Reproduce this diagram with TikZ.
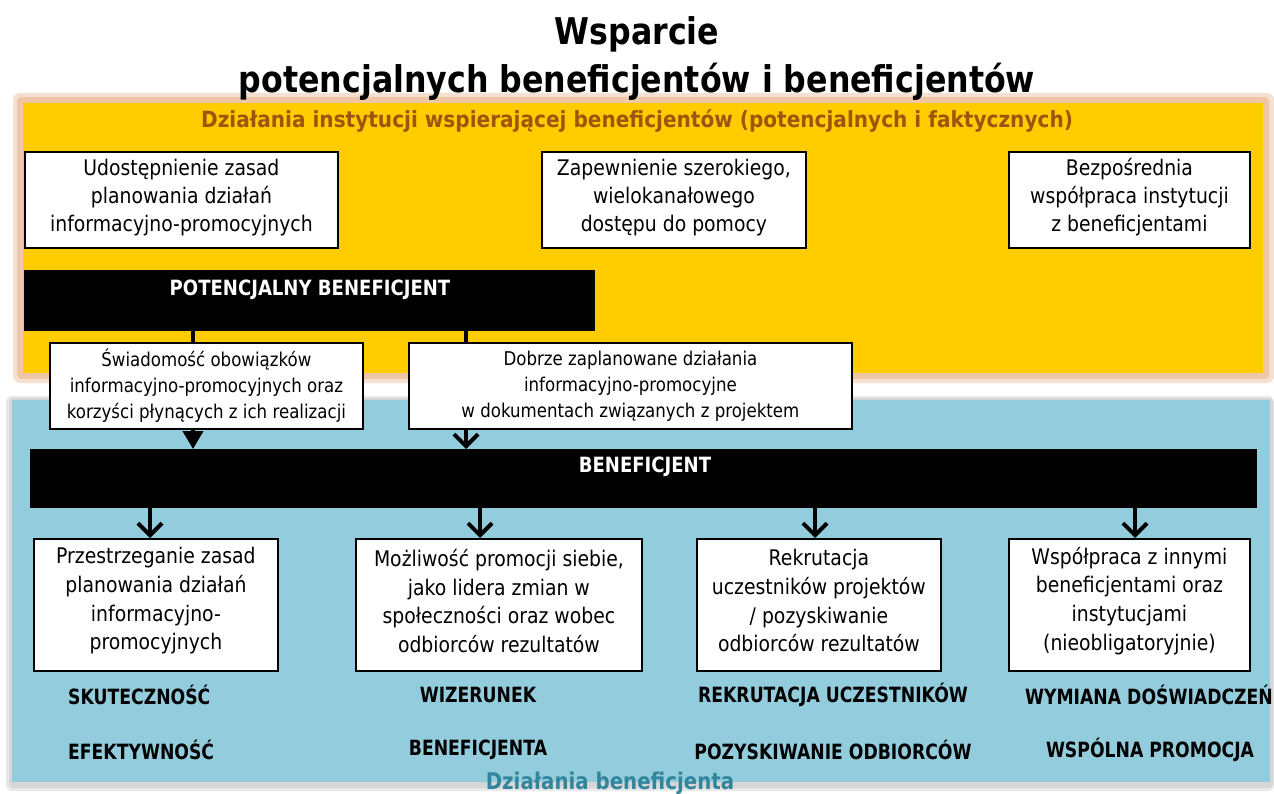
\documentclass[tikz,border=0pt]{standalone}
\usepackage{fontspec}
\usetikzlibrary{arrows.meta}
\newfontfamily\tah[FakeStretch=0.875]{DejaVu Sans}
\newfontfamily\tahb[FakeStretch=0.86]{DejaVu Sans Bold}
\newfontfamily\tahw[FakeStretch=0.9]{DejaVu Sans Bold}
\newfontfamily\tahc[FakeStretch=0.82]{DejaVu Sans Bold}
\definecolor{ybg}{HTML}{FFCC00}
\definecolor{yglow}{HTML}{E8B48A}
\definecolor{bbg}{HTML}{93CDDD}
\definecolor{brownlbl}{HTML}{A0540A}
\definecolor{teallbl}{HTML}{31859C}
\begin{document}
\begin{tikzpicture}[x=1pt,y=-1pt,
  wbox/.style={draw=black, line width=1.8pt, fill=white, inner sep=0pt, anchor=north west},
  topbox/.style={wbox, minimum height=96pt},
  midbox/.style={wbox, minimum height=86pt},
  botbox/.style={wbox, minimum height=132pt},
  toptxt/.style={align=center, inner sep=0pt, font=\tah\fontsize{21.5pt}{28pt}\selectfont},
  midtxt/.style={align=center, inner sep=0pt, font=\tah\fontsize{19pt}{26pt}\selectfont},
  bottxt/.style={align=center, inner sep=0pt, font=\tah\fontsize{21.5pt}{28.7pt}\selectfont},
  bar/.style={fill=black, inner sep=0pt, anchor=north west},
  bartxt/.style={text=white, font=\tahb\fontsize{21pt}{25pt}\selectfont, inner sep=0pt},
  res/.style={font=\tahc\fontsize{21pt}{24pt}\selectfont, inner sep=0pt},
  conn/.style={line width=4pt, draw=black},
  vtip/.style={-{Straight Barb[length=12pt,width=24pt]}},
  ttip/.style={-{Triangle[length=18pt,width=20pt]}}
]
\useasboundingbox (0,0) rectangle (1274,794);
\fill[white] (0,0) rectangle (1274,794);
% yellow band
\fill[yglow!40, rounded corners=7pt] (13,93) rectangle (1274,383);
\fill[yglow!75, rounded corners=4pt] (17,97) rectangle (1269,379);
\fill[ybg] (23,103) rectangle (1263,373);
% blue band
\fill[gray!18, rounded corners=6pt] (6,396) rectangle (1274,791);
\fill[gray!32, rounded corners=4pt] (9,398) rectangle (1273,788);
\fill[bbg] (12,400) rectangle (1270,782);
% title
\node[font=\tahb\fontsize{36.8pt}{48pt}\selectfont, align=center, inner sep=0pt] (title) at (637,58)
  {Wsparcie\\potencjalnych beneficjentów i beneficjentów};
\node[font=\tahw\fontsize{22.3pt}{26pt}\selectfont, text=brownlbl, inner sep=0pt] (ylbl) at (637,121)
  {Działania instytucji wspierającej beneficjentów (potencjalnych i faktycznych)};
% top boxes
\node[topbox, minimum width=313pt] (t1) at (24,151) {};
\node[toptxt] (t1t) at ([yshift=2.5pt]t1.center) {Udostępnienie zasad\\planowania działań\\informacyjno-promocyjnych};
\node[topbox, minimum width=264pt] (t2) at (541,151) {};
\node[toptxt] (t2t) at ([yshift=2.5pt]t2.center) {Zapewnienie szerokiego,\\wielokanałowego\\dostępu do pomocy};
\node[topbox, minimum width=241pt] (t3) at (1008,151) {};
\node[toptxt] (t3t) at ([yshift=2.5pt]t3.center) {Bezpośrednia\\współpraca instytucji\\z beneficjentami};
% bars
\node[bar, minimum width=571pt, minimum height=61pt] (pb) at (24,270) {};
\node[bartxt] (pbt) at (310,290) {POTENCJALNY BENEFICJENT};
\node[bar, minimum width=1227pt, minimum height=59pt] (ben) at (30,449) {};
\node[bartxt] (bent) at (645,467) {BENEFICJENT};
% connectors between bars
\coordinate (c1) at (193,0);
\coordinate (c2) at (466,0);
\draw[conn, ttip] (pb.south -| c1) -- (ben.north -| c1);
\draw[conn, vtip] (pb.south -| c2) -- (ben.north -| c2);
% middle boxes
\node[midbox, minimum width=313pt] (m1) at (49,342) {};
\node[midtxt] (m1t) at (m1.center) {Świadomość obowiązków\\informacyjno-promocyjnych oraz\\korzyści płynących z ich realizacji};
\node[midbox, minimum width=443pt] (m2) at (408,342) {};
\node[midtxt] (m2t) at (m2.center) {Dobrze zaplanowane działania\\informacyjno-promocyjne\\w dokumentach związanych z projektem};
% bottom boxes
\node[botbox, minimum width=244pt] (b1) at (33,538) {};
\node[bottxt] (b1t) at ([yshift=4pt]b1.center) {Przestrzeganie zasad\\planowania działań\\informacyjno-\\promocyjnych};
\node[botbox, minimum width=286pt] (b2) at (355,538) {};
\node[bottxt] (b2t) at ([yshift=4pt]b2.center) {Możliwość promocji siebie,\\jako lidera zmian w\\społeczności oraz wobec\\odbiorców rezultatów};
\node[botbox, minimum width=244pt] (b3) at (696,538) {};
\node[bottxt] (b3t) at ([yshift=4pt]b3.center) {Rekrutacja\\uczestników projektów\\/ pozyskiwanie\\odbiorców rezultatów};
\node[botbox, minimum width=241pt] (b4) at (1008,538) {};
\node[bottxt] (b4t) at ([yshift=4pt]b4.center) {Współpraca z innymi\\beneficjentami oraz\\instytucjami\\(nieobligatoryjnie)};
% arrows to bottom boxes
\coordinate (d1) at (150,0);
\coordinate (d2) at (480,0);
\coordinate (d3) at (815,0);
\coordinate (d4) at (1135,0);
\draw[conn, vtip] (ben.south -| d1) -- (b1.north -| d1);
\draw[conn, vtip] (ben.south -| d2) -- (b2.north -| d2);
\draw[conn, vtip] (ben.south -| d3) -- (b3.north -| d3);
\draw[conn, vtip] (ben.south -| d4) -- (b4.north -| d4);
% result labels
\node[res, anchor=west] (r1a) at (68,695) {SKUTECZNOŚĆ};
\node[res, anchor=west] (r1b) at (68,750) {EFEKTYWNOŚĆ};
\node[res] (r2a) at (478,695) {WIZERUNEK};
\node[res] (r2b) at (478,750) {BENEFICJENTA};
\node[res] (r3a) at (833,695) {REKRUTACJA UCZESTNIKÓW};
\node[res] (r3b) at (833,750) {POZYSKIWANIE ODBIORCÓW};
\node[res] (r4a) at (1149,695) {WYMIANA DOŚWIADCZEŃ};
\node[res] (r4b) at (1150,750) {WSPÓLNA PROMOCJA};
\node[font=\tahb\fontsize{23pt}{26pt}\selectfont, text=teallbl, inner sep=0pt] (blbl) at (610,783) {Działania beneficjenta};
\end{tikzpicture}
\end{document}
